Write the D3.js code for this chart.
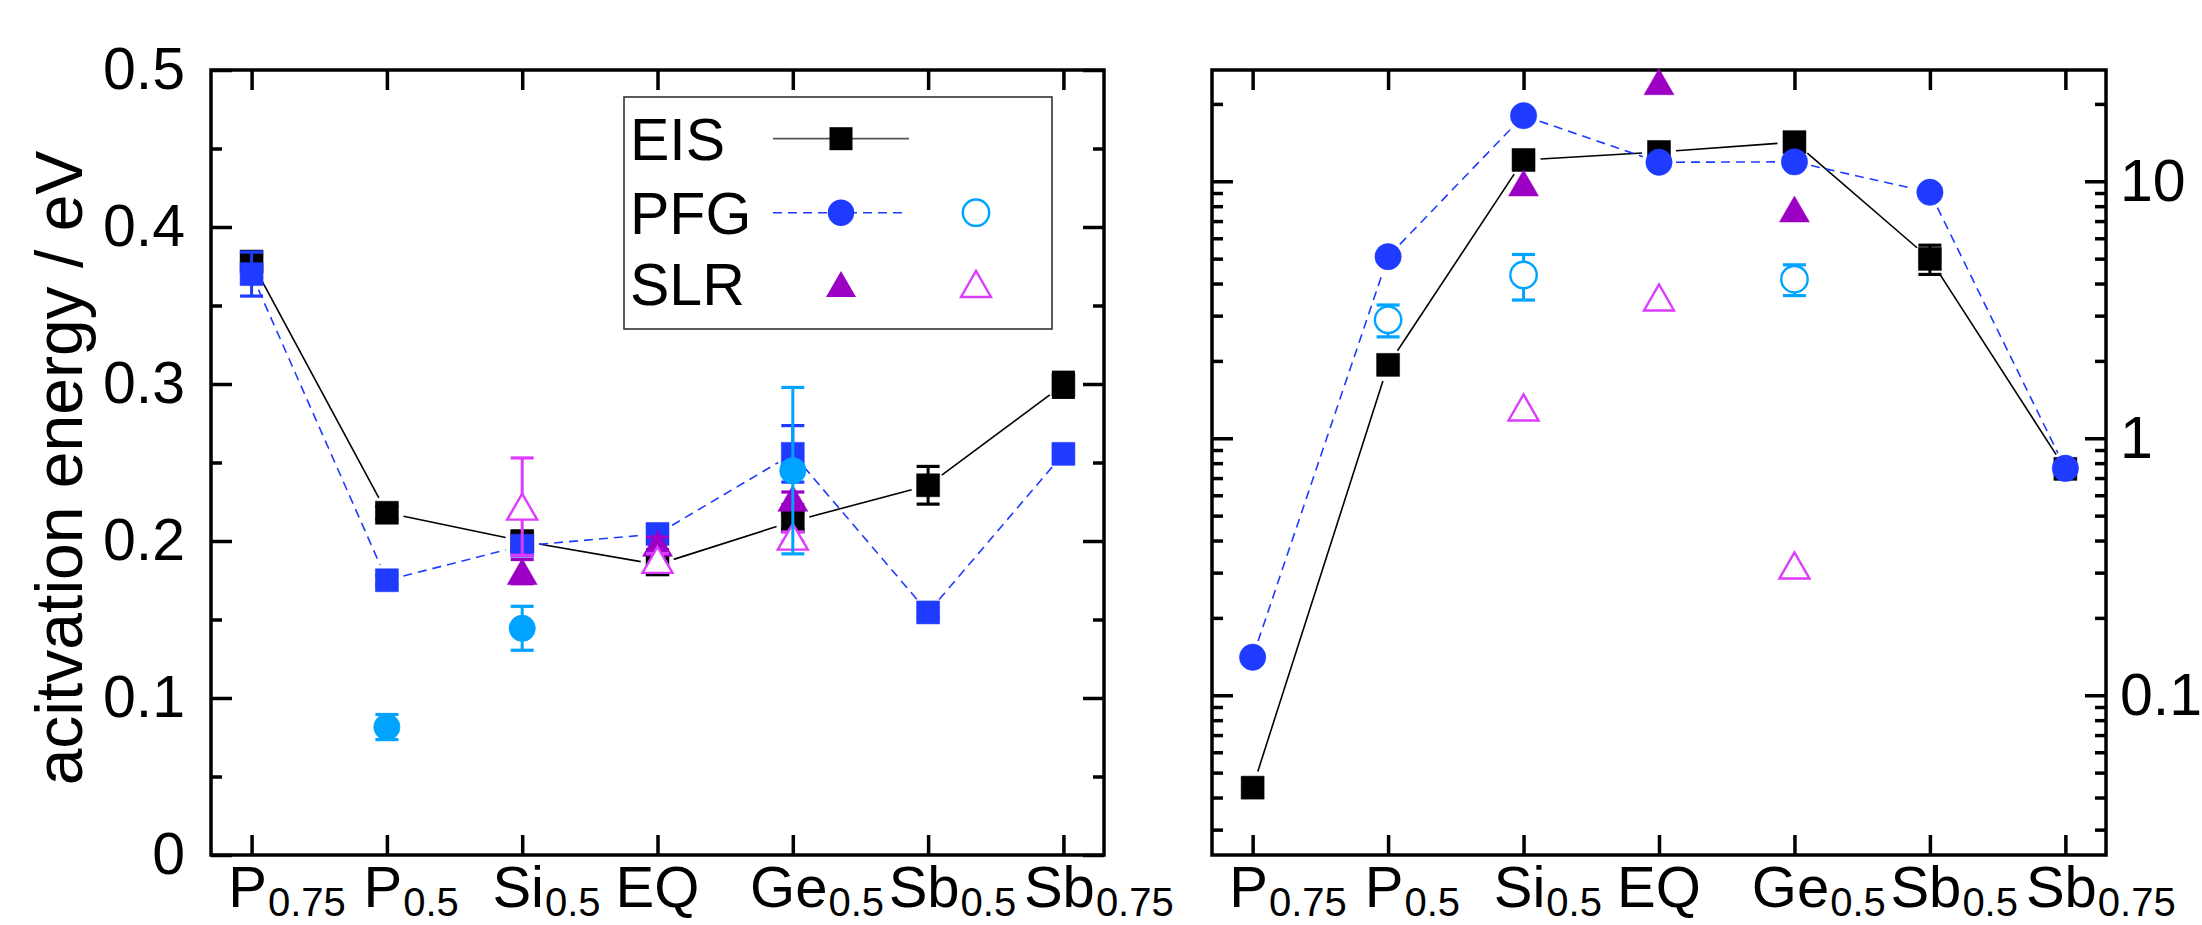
<!DOCTYPE html>
<html>
<head>
<meta charset="utf-8">
<script src="https://cdn.jsdelivr.net/npm/d3@7"></script>
<style>
  html, body { margin: 0; padding: 0; background: #fff; }
  svg { display: block; }
</style>
</head>
<body>
<svg id="chart" width="2202" height="925"></svg>
<script>
// ---------------- data ----------------
const categories = ["P", "P", "Si", "EQ", "Ge", "Sb", "Sb"];
const subscripts = ["0.75", "0.5", "0.5", "", "0.5", "0.5", "0.75"];

// left panel: activation energy / eV
const eisEa     = [0.378, 0.218, 0.200, 0.185, 0.2125, 0.2355, 0.2995];
const eisEaErr  = [0.004, 0.004, 0.005, 0.004, 0.005, 0.012, 0.008];
const pfgEa     = [0.370, 0.175, 0.197, 0.2045, 0.2555, 0.1545, 0.2555];
const pfgEaErr  = [0.014, 0.003, 0.004, 0.003, 0.018, 0.003, 0.003];
const pfg2Ea    = [null, 0.0815, 0.1444, null, 0.2448, null, null];
const pfg2EaErr = [null, 0.008, 0.014, null, 0.053, null, null];
const slrEa     = [null, null, 0.1805, 0.1985, 0.2272, null, null];
const slrEaErr  = [null, null, 0.0077, 0.004, 0.004, null, null];
const slr2Ea    = [null, null, 0.2219, 0.188, 0.2028, null, null];
const slr2EaErr = [null, null, 0.031, 0.004, 0.003, null, null];

// right panel (log scale)
const eisPre     = [0.0437, 1.93, 12.1, 13.0, 14.2, 4.99, 0.76];
const eisPreErr  = [0, 0, 0, 0, 0, 0.65, 0];
const pfgPre     = [0.1406, 5.09, 18.0, 11.86, 11.9, 9.06, 0.764];
const pfgPreErr  = [0, 0, 0, 0, 0, 0, 0];
const pfg2Pre    = [null, 2.89, 4.32, null, 4.16, null, null];
const pfg2PreErr = [null, 0.41, 0.87, null, 0.57, null, null];
const slrPre     = [null, null, 9.85, 24.4, 7.8, null, null];
const slr2Pre    = [null, null, 1.318, 3.53, 0.32, null, null];

const leftTicks = [0, 0.1, 0.2, 0.3, 0.4, 0.5];
const leftTickLabels = ["0", "0.1", "0.2", "0.3", "0.4", "0.5"];
const leftMinor = [0.05, 0.15, 0.25, 0.35, 0.45];
const rightTicks = [0.1, 1, 10];
const rightTickLabels = ["0.1", "1", "10"];

const legendNames = ["EIS", "PFG", "SLR"];
const yTitle = "acitvation energy / eV";

// ---------------- style ----------------
const FONT = "'Liberation Sans', Arial, Helvetica, sans-serif";
const C_BLACK = "#000000", C_BLUE = "#1f3bff", C_LBLUE = "#00a3ff",
      C_PURPLE = "#9b00c4", C_MAGENTA = "#dd3cff";

const svg = d3.select("#chart");
svg.append("rect").attr("width", 2202).attr("height", 925).attr("fill", "#fff");

const PT = 70, PB = 855;
const left = {x0: 211, x1: 1104};
const right = {x0: 1212, x1: 2106};

const xL = d3.scaleLinear().domain([-0.3, 6.3]).range([left.x0, left.x1]);
const yL = d3.scaleLinear().domain([0, 0.5]).range([PB, PT]);
const xR = d3.scaleLinear().domain([-0.3, 6.3]).range([right.x0, right.x1]);
const yR = d3.scaleLog().domain([0.0239, 27.1]).range([PB, PT]);

const rightMinor = [];
[0.01, 0.1, 1, 10].forEach(dec => { for (let k = 2; k <= 9; k++) { const v = k * dec; if (v > yR.domain()[0] && v < yR.domain()[1]) rightMinor.push(v); } });

function styleAxis(g) {
  g.select(".domain").remove();
  g.selectAll(".tick line").attr("stroke", "#000").attr("stroke-width", 3.5);
  g.selectAll(".tick text").attr("fill", "#000").attr("font-size", 59).attr("font-family", FONT);
  g.attr("font-family", FONT);
}

function drawAxes(x, y, box, majorY, labelsY, minorY, labelSide) {
  const g = svg.append("g");
  g.append("g").attr("transform", `translate(${box.x0},0)`)
    .call(d3.axisLeft(y).tickValues(majorY).tickSize(-21).tickPadding(26)
      .tickFormat((d, i) => labelSide === "left" ? labelsY[i] : ""))
    .call(styleAxis);
  g.append("g").attr("transform", `translate(${box.x0},0)`)
    .call(d3.axisLeft(y).tickValues(minorY).tickSize(-11).tickFormat(""))
    .call(styleAxis);
  g.append("g").attr("transform", `translate(${box.x1},0)`)
    .call(d3.axisRight(y).tickValues(majorY).tickSize(-21).tickPadding(14)
      .tickFormat((d, i) => labelSide === "right" ? labelsY[i] : ""))
    .call(styleAxis);
  g.append("g").attr("transform", `translate(${box.x1},0)`)
    .call(d3.axisRight(y).tickValues(minorY).tickSize(-11).tickFormat(""))
    .call(styleAxis);
  g.append("g").attr("transform", `translate(0,${PB})`)
    .call(d3.axisBottom(x).tickValues(d3.range(categories.length)).tickSize(-20).tickFormat(""))
    .call(styleAxis);
  g.append("g").attr("transform", `translate(0,${PT})`)
    .call(d3.axisTop(x).tickValues(d3.range(categories.length)).tickSize(-20).tickFormat(""))
    .call(styleAxis);
  g.append("rect").attr("x", box.x0).attr("y", PT).attr("width", box.x1 - box.x0).attr("height", PB - PT)
    .attr("fill", "none").attr("stroke", "#000").attr("stroke-width", 3.5);
  categories.forEach((c, i) => {
    const t = g.append("text").attr("y", 907).attr("font-size", 58).attr("font-family", FONT)
      .attr("fill", "#000").text(c);
    const w = t.node().getComputedTextLength();
    const cx = x(i) - (subscripts[i] ? 4 : 0);
    t.attr("x", cx - w / 2);
    if (subscripts[i]) {
      g.append("text").attr("x", cx + w / 2 + 1).attr("y", 916).attr("font-size", 40)
        .attr("font-family", FONT).attr("fill", "#000").text(subscripts[i]);
    }
  });
}

drawAxes(xL, yL, left, leftTicks, leftTickLabels, leftMinor, "left");
drawAxes(xR, yR, right, rightTicks, rightTickLabels, rightMinor, "right");

svg.append("text").attr("transform", `translate(82,468) rotate(-90)`)
  .attr("text-anchor", "middle").attr("font-size", 66).attr("font-family", FONT)
  .attr("fill", "#000").text(yTitle);

// ---------------- marks ----------------
function markerPath(shape, cx, cy) {
  if (shape === "square") {
    const h = 11.5;
    return `M${cx - h},${cy - h}H${cx + h}V${cy + h}H${cx - h}Z`;
  }
  if (shape === "triangle") {
    return `M${cx - 15},${cy + 13}L${cx + 15},${cy + 13}L${cx},${cy - 13}Z`;
  }
  const r = 13.2;
  return `M${cx - r},${cy}a${r},${r} 0 1,0 ${2 * r},0a${r},${r} 0 1,0 ${-2 * r},0Z`;
}

function drawLine(g, vals, x, y, color, dash) {
  const pts = vals.map((v, i) => v == null ? null : [x(i), y(v)]);
  const gap = 17;
  for (let i = 0; i < pts.length - 1; i++) {
    const a = pts[i], b = pts[i + 1];
    if (!a || !b) continue;
    const dx = b[0] - a[0], dy = b[1] - a[1], L = Math.hypot(dx, dy);
    if (L < 2 * gap) continue;
    const ux = dx / L, uy = dy / L;
    g.append("line")
      .attr("x1", a[0] + ux * gap).attr("y1", a[1] + uy * gap)
      .attr("x2", b[0] - ux * gap).attr("y2", b[1] - uy * gap)
      .attr("stroke", color).attr("stroke-width", 1.6)
      .attr("stroke-dasharray", dash || null);
  }
}

function drawSeries(g, vals, errs, x, y, shape, color, open) {
  vals.forEach((v, i) => {
    if (v == null) return;
    const cx = x(i), cy = y(v);
    const e = errs ? errs[i] : 0;
    if (e) {
      const y1 = y(v - e), y2 = y(v + e);
      g.append("line").attr("x1", cx).attr("x2", cx).attr("y1", y1).attr("y2", y2)
        .attr("stroke", color).attr("stroke-width", 3);
      [y1, y2].forEach(yy => g.append("line").attr("x1", cx - 11.5).attr("x2", cx + 11.5)
        .attr("y1", yy).attr("y2", yy).attr("stroke", color).attr("stroke-width", 3.2));
    }
    g.append("path").attr("d", markerPath(shape, cx, cy))
      .attr("fill", open ? "#fff" : color)
      .attr("stroke", color).attr("stroke-width", open ? 2.4 : 0.5);
  });
}

const gL = svg.append("g");
drawLine(gL, eisEa, xL, yL, "#000", null);
drawLine(gL, pfgEa, xL, yL, C_BLUE, "9,6");
drawSeries(gL, eisEa, eisEaErr, xL, yL, "square", C_BLACK, false);
drawSeries(gL, pfgEa, pfgEaErr, xL, yL, "square", C_BLUE, false);
drawSeries(gL, slrEa, slrEaErr, xL, yL, "triangle", C_PURPLE, false);
drawSeries(gL, slr2Ea, slr2EaErr, xL, yL, "triangle", C_MAGENTA, true);
drawSeries(gL, pfg2Ea, pfg2EaErr, xL, yL, "circle", C_LBLUE, false);

const gR = svg.append("g");
drawLine(gR, eisPre, xR, yR, "#000", null);
drawLine(gR, pfgPre, xR, yR, C_BLUE, "9,6");
drawSeries(gR, eisPre, eisPreErr, xR, yR, "square", C_BLACK, false);
drawSeries(gR, pfgPre, pfgPreErr, xR, yR, "circle", C_BLUE, false);
drawSeries(gR, slrPre, null, xR, yR, "triangle", C_PURPLE, false);
drawSeries(gR, slr2Pre, null, xR, yR, "triangle", C_MAGENTA, true);
drawSeries(gR, pfg2Pre, pfg2PreErr, xR, yR, "circle", C_LBLUE, true);

// ---------------- legend ----------------
const lg = svg.append("g");
lg.append("rect").attr("x", 624).attr("y", 97).attr("width", 428).attr("height", 232)
  .attr("fill", "#fff").attr("stroke", "#333").attr("stroke-width", 1.6);
const rowsY = [138.7, 212.7, 284];
legendNames.forEach((n, i) => {
  lg.append("text").attr("x", 630).attr("y", rowsY[i] + 20.8).attr("font-size", 59)
    .attr("font-family", FONT).attr("fill", "#000").text(n);
});
lg.append("line").attr("x1", 773).attr("x2", 909).attr("y1", rowsY[0]).attr("y2", rowsY[0])
  .attr("stroke", "#555").attr("stroke-width", 1.8);
lg.append("path").attr("d", markerPath("square", 841, rowsY[0])).attr("fill", C_BLACK);
lg.append("line").attr("x1", 773).attr("x2", 904).attr("y1", rowsY[1]).attr("y2", rowsY[1])
  .attr("stroke", C_BLUE).attr("stroke-width", 1.6).attr("stroke-dasharray", "9,6");
lg.append("path").attr("d", markerPath("circle", 841, rowsY[1])).attr("fill", C_BLUE);
lg.append("path").attr("d", markerPath("circle", 976, rowsY[1])).attr("fill", "#fff")
  .attr("stroke", C_LBLUE).attr("stroke-width", 2.4);
lg.append("path").attr("d", markerPath("triangle", 841, rowsY[2])).attr("fill", C_PURPLE);
lg.append("path").attr("d", markerPath("triangle", 976, rowsY[2])).attr("fill", "#fff")
  .attr("stroke", C_MAGENTA).attr("stroke-width", 2.4);
</script>
</body>
</html>
